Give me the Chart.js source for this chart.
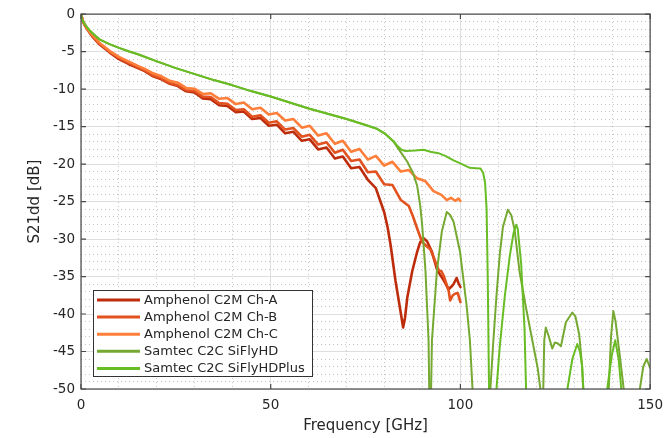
<!DOCTYPE html>
<html>
<head>
<meta charset="utf-8">
<script src="https://cdn.jsdelivr.net/npm/chart.js@4.4.0/dist/chart.umd.min.js"></script>
<style>
    html, body { margin: 0; padding: 0; background: #fff; }
    #wrap { width: 671px; height: 438px; }
</style>
</head>
<body>
<div id="wrap"><canvas id="s21Chart" width="671" height="438"></canvas></div>
<script>
// series names, in legend order
const seriesNames = ['Amphenol C2M Ch-A', 'Amphenol C2M Ch-B', 'Amphenol C2M Ch-C', 'Samtec C2C SiFlyHD', 'Samtec C2C SiFlyHDPlus'];
const seriesColors = ['#bd2d0c', '#e1521f', '#ff7f3a', '#76a932', '#68bd24'];

// axis ticks
const freqTicks = [0, 50, 100, 150];
const dbTicks = [-50, -45, -40, -35, -30, -25, -20, -15, -10, -5, 0];

// Amphenol C2M Ch-A
const freqA = [0, 0.5, 1, 2, 3, 5, 7.5, 10, 12.5, 15, 16.8, 19.0, 21.2, 23.4, 25.5, 27.7, 29.9, 32.1, 34.2, 36.4, 38.6, 40.8, 42.9, 45.1, 47.3, 49.5, 51.6, 53.8, 56.0, 58.2, 60.3, 62.5, 64.7, 66.9, 69.0, 71.2, 73.4, 75.6, 77.7, 79.0, 79.9, 80.8, 81.6, 82.9, 84.2, 84.9, 85.4, 86.0, 87.3, 88.6, 89.4, 90.3, 91.2, 92.5, 93.8, 94.7, 95.6, 96.9, 97.5, 98.2, 99.0, 99.5, 100];
const s21A = [0, -1.0, -1.5, -2.3, -3.0, -4.1, -5.1, -6.0, -6.65, -7.2, -7.6, -8.3, -8.7, -9.3, -9.6, -10.3, -10.45, -11.25, -11.35, -12.15, -12.25, -13.1, -13.0, -14.0, -13.85, -14.9, -14.75, -15.9, -15.7, -16.9, -16.7, -18.05, -17.8, -19.25, -19.0, -20.55, -20.4, -22.1, -23.2, -25.1, -26.4, -28.4, -30.8, -35.6, -39.6, -41.8, -40.5, -37.8, -34.3, -31.7, -30.4, -29.9, -30.3, -31.7, -34.0, -34.8, -35.5, -36.7, -36.4, -36.0, -35.2, -35.9, -36.4];

// Amphenol C2M Ch-B
const freqB = [0, 0.5, 1, 2, 3, 5, 7.5, 10, 12.5, 15, 16.8, 19.0, 21.2, 23.4, 25.5, 27.7, 29.9, 32.1, 34.2, 36.4, 38.6, 40.8, 42.9, 45.1, 47.3, 49.5, 51.6, 53.8, 56.0, 58.2, 60.3, 62.5, 64.7, 66.9, 69.0, 71.2, 73.4, 75.6, 77.7, 79.9, 82.1, 84.3, 86.4, 87.5, 88.6, 89.9, 91.2, 92.1, 92.9, 94.3, 95.0, 95.6, 96.9, 97.3, 98.0, 98.6, 99.3, 100];
const s21B = [0, -0.95, -1.45, -2.25, -2.9, -4.0, -5.0, -5.85, -6.5, -7.1, -7.5, -8.2, -8.6, -9.2, -9.5, -10.15, -10.25, -11.0, -11.05, -11.85, -11.95, -12.8, -12.7, -13.7, -13.5, -14.5, -14.3, -15.4, -15.2, -16.35, -16.1, -17.4, -17.1, -18.5, -18.1, -19.6, -19.4, -21.1, -21.0, -22.7, -22.8, -24.8, -25.6, -27.0, -28.6, -30.4, -31.0, -31.4, -32.4, -34.2, -34.3, -34.9, -36.9, -38.2, -37.5, -37.3, -37.2, -38.4];

// Amphenol C2M Ch-C
const freqC = [0, 0.5, 1, 2, 3, 5, 7.5, 10, 12.5, 15, 16.8, 19.0, 21.2, 23.4, 25.5, 27.7, 29.9, 32.1, 34.2, 36.4, 38.6, 40.8, 42.9, 45.1, 47.3, 49.5, 51.6, 53.8, 56.0, 58.2, 60.3, 62.5, 64.7, 66.9, 69.0, 71.2, 73.4, 75.6, 77.7, 79.9, 82.1, 84.3, 86.4, 88.6, 90.8, 92.9, 95.0, 96.4, 97.5, 98.6, 99.5, 100];
const s21C = [0, -0.9, -1.4, -2.2, -2.8, -3.9, -4.9, -5.7, -6.3, -6.9, -7.3, -7.9, -8.3, -8.9, -9.15, -9.85, -9.95, -10.65, -10.55, -11.3, -11.2, -12.0, -11.8, -12.7, -12.5, -13.4, -13.2, -14.2, -14.0, -15.15, -14.9, -16.2, -15.9, -17.3, -16.9, -18.35, -18.0, -19.4, -18.9, -20.2, -19.7, -21.0, -20.8, -21.9, -22.3, -23.6, -24.1, -24.8, -24.5, -24.9, -24.6, -24.9];

// Samtec C2C SiFlyHD
const freqHD = [0, 0.3, 0.8, 1.5, 2.5, 4, 5, 7.5, 10, 12.5, 15, 20, 25, 30, 35, 40, 45, 50, 55, 60, 65, 70, 75, 78, 80, 81.3, 82.5, 84, 86, 87.5, 88.6, 89.4, 89.9, 90.8, 91.6, 92.0, 92.5, 93.8, 95.1, 96.4, 97.3, 98.2, 99.9, 101.6, 102.5, 103.4, 104.5, 107.0, 107.9, 108.6, 109.5, 110.4, 111.2, 112.5, 113.4, 114.3, 115.6, 117.3, 119.1, 120.4, 121.2, 121.6, 122.1, 122.5, 123.3, 124.2, 124.9, 125.6, 126.5, 127.8, 129.5, 130.3, 131.3, 132.0, 132.6, 133.5, 138.5, 139.1, 139.7, 140.3, 140.9, 142.0, 143.5, 144.5, 146.5, 147.3, 148.2, 149.1, 150];
const s21HD = [0, -0.7, -1.2, -1.7, -2.3, -3.0, -3.4, -4.0, -4.5, -4.95, -5.35, -6.3, -7.2, -8.0, -8.8, -9.5, -10.3, -11.0, -11.8, -12.6, -13.3, -14.0, -14.8, -15.3, -15.9, -16.5, -17.1, -18.2, -19.7, -21.2, -22.9, -25.5, -28.0, -34.3, -43.5, -58, -43.5, -34.3, -29.0, -26.4, -26.8, -27.7, -31.7, -38.7, -43.5, -52, -62, -62, -50, -44.2, -37.6, -31.9, -28.4, -26.1, -26.8, -28.8, -34.4, -39.2, -43.9, -47.3, -50.5, -56, -43.5, -41.8, -43.0, -44.6, -43.8, -43.9, -44.3, -41.1, -39.8, -40.3, -42.7, -46.5, -52, -62, -62, -50, -43, -39.6, -41, -45.5, -52, -62, -62, -50, -47, -46.0, -47.2];

// Samtec C2C SiFlyHDPlus
const freqHDP = [0, 0.3, 0.8, 1.5, 2.5, 4, 5, 7.5, 10, 12.5, 15, 20, 25, 30, 35, 40, 45, 50, 55, 60, 65, 70, 75, 78, 80, 81.3, 82.5, 83.4, 84.5, 85.5, 88.0, 90.3, 92.1, 94.2, 96.0, 98.2, 100.0, 101.6, 102.5, 104.0, 105.3, 106.0, 106.5, 106.9, 107.2, 107.5, 107.8, 109.0, 109.5, 110.4, 111.7, 113.0, 114.0, 114.7, 115.1, 116.0, 116.9, 117.3, 117.6, 127.8, 128.2, 129.5, 130.8, 131.5, 132.1, 132.6, 133.2, 138.2, 138.7, 139.9, 140.8, 141.7, 142.4, 143.0, 150];
const s21HDP = [0, -0.7, -1.2, -1.7, -2.3, -3.0, -3.4, -4.0, -4.5, -4.95, -5.35, -6.3, -7.2, -8.0, -8.8, -9.5, -10.3, -11.0, -11.8, -12.6, -13.3, -14.0, -14.8, -15.3, -15.9, -16.5, -17.0, -17.6, -18.1, -18.25, -18.2, -18.1, -18.35, -18.55, -18.9, -19.5, -19.9, -20.3, -20.5, -20.55, -20.6, -21.2, -22.5, -26, -35, -48, -62, -62, -50, -44.2, -37.6, -32.3, -29.2, -28.1, -28.6, -33.2, -42, -50, -62, -62, -50, -46, -44.0, -45, -47, -52, -62, -62, -50, -45.5, -43.5, -46, -50, -62, -62];

const FONT = "'DejaVu Sans', sans-serif";
const TEXT = '#262626';

function toPoints(xs, ys) {
    return xs.map((x, i) => ({ x: x, y: ys[i] }));
}

const seriesData = [
    toPoints(freqA, s21A),
    toPoints(freqB, s21B),
    toPoints(freqC, s21C),
    toPoints(freqHD, s21HD),
    toPoints(freqHDP, s21HDP)
];
const lineWidths = [2.6, 2.6, 2.6, 2, 2];
const drawOrder = [4, 3, 2, 1, 0]; // later MATLAB-style plots end up on top

// box around the axes with inward ticks
const framePlugin = {
    id: 'frame',
    afterDatasetsDraw(chart) {
        const { ctx, chartArea: a, scales } = chart;
        ctx.save();
        ctx.strokeStyle = '#4a4a4a';
        ctx.lineWidth = 1.2;
        ctx.strokeRect(a.left, a.top, a.right - a.left, a.bottom - a.top);
        ctx.beginPath();
        const len = 5;
        freqTicks.forEach(v => {
            const px = scales.x.getPixelForValue(v);
            ctx.moveTo(px, a.bottom); ctx.lineTo(px, a.bottom - len);
            ctx.moveTo(px, a.top); ctx.lineTo(px, a.top + len);
        });
        dbTicks.forEach(v => {
            const py = scales.y.getPixelForValue(v);
            ctx.moveTo(a.left, py); ctx.lineTo(a.left + len, py);
            ctx.moveTo(a.right, py); ctx.lineTo(a.right - len, py);
        });
        ctx.stroke();
        ctx.restore();
    }
};

// legend box in the lower left corner of the plot
const legendPlugin = {
    id: 'boxLegend',
    afterDraw(chart) {
        const { ctx } = chart;
        const bx = 93.5, by = 290.5, bw = 219, bh = 86;
        ctx.save();
        ctx.fillStyle = '#ffffff';
        ctx.fillRect(bx, by, bw, bh);
        ctx.strokeStyle = '#333333';
        ctx.lineWidth = 1;
        ctx.strokeRect(bx, by, bw, bh);
        ctx.font = '13px ' + FONT;
        ctx.textBaseline = 'middle';
        ctx.textAlign = 'left';
        seriesNames.forEach((name, i) => {
            const y = 300 + i * 17.1;
            ctx.strokeStyle = seriesColors[i];
            ctx.lineWidth = 3;
            ctx.beginPath();
            ctx.moveTo(97, y);
            ctx.lineTo(140, y);
            ctx.stroke();
            ctx.fillStyle = TEXT;
            ctx.fillText(name, 144, y + 0.5);
        });
        ctx.restore();
    }
};

const ctx = document.getElementById('s21Chart');

new Chart(ctx.getContext('2d'), {
    type: 'line',
    data: {
        datasets: seriesNames.map((name, i) => ({
            label: name,
            data: seriesData[i],
            borderColor: seriesColors[i],
            backgroundColor: seriesColors[i],
            borderWidth: lineWidths[i],
            order: drawOrder[i],
            fill: false,
            pointRadius: 0,
            tension: 0
        }))
    },
    options: {
        responsive: false,
        animation: false,
        events: [],
        layout: { padding: { left: 0, right: 16, top: 10, bottom: 0 } },
        plugins: { legend: { display: false }, tooltip: { enabled: false } },
        elements: { line: { borderJoinStyle: 'round', borderCapStyle: 'round' } },
        scales: {
            x: {
                type: 'linear', position: 'bottom', min: 0, max: 150,
                afterBuildTicks: s => { s.ticks = freqTicks.map(v => ({ value: v })); },
                ticks: { padding: 8, color: TEXT, font: { family: FONT, size: 13.5 }, maxRotation: 0 },
                grid: { color: '#dedede', lineWidth: 1, drawTicks: false },
                border: { display: false },
                title: { display: true, text: 'Frequency [GHz]', color: TEXT, font: { family: FONT, size: 15 }, padding: { top: 0, bottom: 3 } },
                afterFit: s => { s.height = 49; }
            },
            y: {
                type: 'linear', position: 'left', min: -50, max: 0,
                afterBuildTicks: s => { s.ticks = dbTicks.map(v => ({ value: v })); },
                ticks: { padding: 6, color: TEXT, font: { family: FONT, size: 13.5 } },
                grid: { color: '#dedede', lineWidth: 1, drawTicks: false },
                border: { display: false },
                title: { display: true, text: 'S21dd [dB]', color: TEXT, font: { family: FONT, size: 15 }, padding: { top: 26, bottom: 0 } },
                afterFit: s => { s.width = 81; }
            },
            xMinor: {
                type: 'linear', position: 'bottom', min: 0, max: 150,
                ticks: { display: false, stepSize: 10 },
                grid: { drawTicks: false, color: c => (c.tick && c.tick.value % 50 === 0) ? 'rgba(0,0,0,0)' : 'rgba(0,0,0,0.24)' },
                border: { display: false, dash: [1, 3] },
                afterFit: s => { s.height = 0; }
            },
            yMinor: {
                type: 'linear', position: 'left', min: -50, max: 0,
                ticks: { display: false, stepSize: 1 },
                grid: { drawTicks: false, color: c => (c.tick && c.tick.value % 5 === 0) ? 'rgba(0,0,0,0)' : 'rgba(0,0,0,0.24)' },
                border: { display: false, dash: [1, 3] },
                afterFit: s => { s.width = 0; }
            }
        }
    },
    plugins: [framePlugin, legendPlugin]
});
</script>
</body>
</html>
